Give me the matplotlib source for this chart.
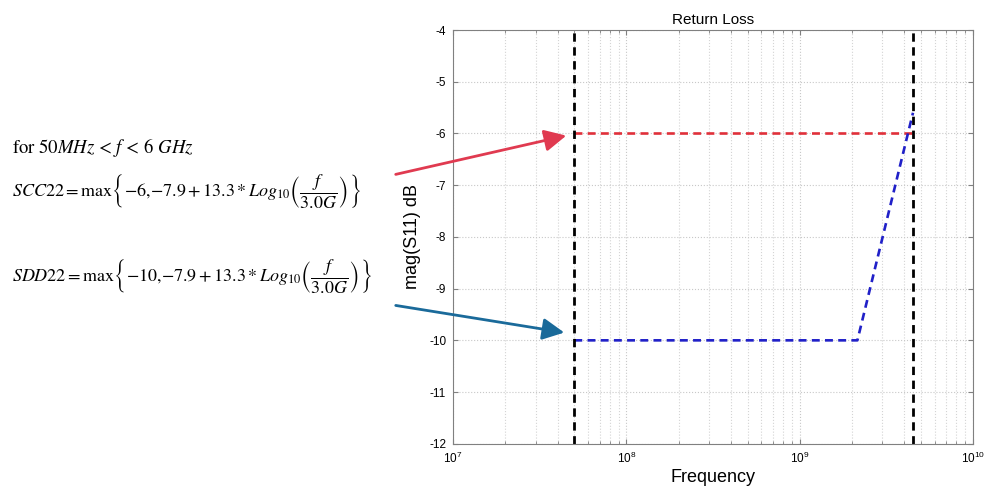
import matplotlib
matplotlib.use("Agg")
import matplotlib.pyplot as plt
import numpy as np

plt.rcParams['font.family'] = ['Liberation Sans', 'DejaVu Sans']
plt.rcParams['mathtext.fontset'] = 'stix'

# data
limit_freq = [5e7, 4.5e9]                 # vertical black dashed limits
scc22_freq = [5e7, 4.5e9]
scc22_db = [-6, -6]
sdd22_freq = [5e7, 2.15e9, 4.5e9]
sdd22_db = [-10, -10, -5.6]
y_ticks = [-12, -11, -10, -9, -8, -7, -6, -5, -4]

fig = plt.figure(figsize=(9.96, 4.92), dpi=100)
ax = fig.add_axes([0.455, 0.098, 0.522, 0.841])

ax.plot(scc22_freq, scc22_db, color='#e0303a', ls='--', lw=1.9, dashes=(3, 2))
ax.plot(sdd22_freq, sdd22_db, color='#2020c8', ls='--', lw=1.9, dashes=(3, 2))
for f in limit_freq:
    ax.axvline(f, color='k', ls='--', lw=2, dashes=(3, 2))

ax.set_xscale('log')
ax.set_xlim(1e7, 1e10)
ax.set_ylim(-12, -4)
ax.set_yticks(y_ticks)
ax.set_yticklabels([str(v) for v in y_ticks])
ax.grid(True, which='major', ls=':', color='#c8c8c8', lw=0.8)
ax.grid(True, which='minor', axis='x', ls=':', color='#d4d4d4', lw=0.8)
ax.tick_params(which='both', direction='in', labelsize=8.5, top=True, right=True,
               color='#808080', pad=5)
for s in ax.spines.values():
    s.set_color('#808080')

ax.set_title('Return Loss', fontsize=11, pad=4)
ax.set_xlabel('Frequency', fontsize=13, labelpad=2)
ax.set_ylabel('mag(S11) dB', fontsize=13, labelpad=6)

# equations on the left
fig.text(0.012, 0.70, r'for 50$MHz$ < $f$ < 6 $GHz$', fontsize=13.5,
         family='STIXGeneral', va='center')
fig.text(0.012, 0.612,
         r'$SCC22 = \mathrm{max}\left\{-6{,}{-}7.9+13.3*Log_{10}\left(\dfrac{f}{3.0G}\right)\right\}$',
         fontsize=13, va='center')
fig.text(0.012, 0.44,
         r'$SDD22 = \mathrm{max}\left\{-10{,}{-}7.9+13.3*Log_{10}\left(\dfrac{f}{3.0G}\right)\right\}$',
         fontsize=13, va='center')

# arrows pointing into the chart
fig.patches.append(matplotlib.patches.FancyArrowPatch(
    (393 / 996, 1 - 175 / 492), (569 / 996, 1 - 135 / 492), transform=fig.transFigure,
    arrowstyle='-|>,head_length=0.6,head_width=0.3', mutation_scale=22, color='#e03a50', lw=2))
fig.patches.append(matplotlib.patches.FancyArrowPatch(
    (393 / 996, 1 - 305 / 492), (567 / 996, 1 - 333 / 492), transform=fig.transFigure,
    arrowstyle='-|>,head_length=0.6,head_width=0.3', mutation_scale=22, color='#1a6a9a', lw=2))

fig.savefig('out.png', dpi=100)
